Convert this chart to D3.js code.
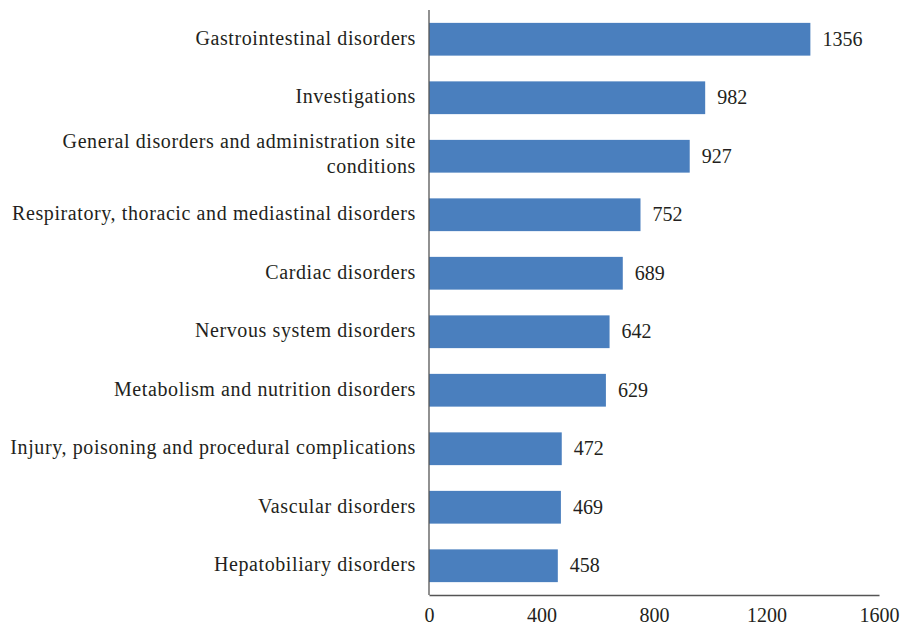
<!DOCTYPE html>
<html>
<head>
<meta charset="utf-8">
<script src="https://cdn.jsdelivr.net/npm/d3@7"></script>
<style>
  body { margin: 0; background: #fff; }
  svg text { font-family: "Liberation Serif", "DejaVu Serif", serif; fill: #231f20; }
</style>
</head>
<body>
<svg id="chart" width="902" height="627"></svg>
<script>
// categories top to bottom
const categories = [
  ['Gastrointestinal disorders'],
  ['Investigations'],
  ['General disorders and administration site', 'conditions'],
  ['Respiratory, thoracic and mediastinal disorders'],
  ['Cardiac disorders'],
  ['Nervous system disorders'],
  ['Metabolism and nutrition disorders'],
  ['Injury, poisoning and procedural complications'],
  ['Vascular disorders'],
  ['Hepatobiliary disorders']
]
const counts = [1356, 982, 927, 752, 689, 642, 629, 472, 469, 458]
const xTicks = [0, 400, 800, 1200, 1600]

let dimensions = {
  width: 902,
  height: 627,
  margin: { top: 10, bottom: 32, right: 23, left: 429 }
}

let svg = d3.select('#chart')

let xScale = d3.scaleLinear()
  .domain([0, 1600])
  .range([dimensions.margin.left, dimensions.width - dimensions.margin.right])

let yScale = d3.scaleBand()
  .domain(d3.range(categories.length))
  .range([dimensions.margin.top, dimensions.height - dimensions.margin.bottom])
  .paddingInner(0.44)
  .paddingOuter(0.22)

svg.selectAll('rect.bar')
  .data(counts)
  .enter()
  .append('rect')
  .attr('class', 'bar')
  .attr('x', xScale(0))
  .attr('y', (d, i) => yScale(i))
  .attr('width', d => xScale(d) - xScale(0))
  .attr('height', yScale.bandwidth())
  .attr('fill', '#4a7fbe')

// value labels
svg.selectAll('text.val')
  .data(counts)
  .enter()
  .append('text')
  .attr('class', 'val')
  .attr('x', d => xScale(d) + 12)
  .attr('y', (d, i) => yScale(i) + yScale.bandwidth() / 2)
  .attr('dy', '0.32em')
  .style('font-size', '20px')
  .text(d => d)

// category labels
let labels = svg.selectAll('text.cat')
  .data(categories)
  .enter()
  .append('text')
  .attr('class', 'cat')
  .attr('text-anchor', 'end')
  .style('font-size', '20px')
  .style('letter-spacing', '0.6px')
  .attr('y', (d, i) => yScale(i) + yScale.bandwidth() / 2)

labels.selectAll('tspan')
  .data(d => d.map((t, j) => ({ t: t, j: j, n: d.length })))
  .enter()
  .append('tspan')
  .attr('x', dimensions.margin.left - 13)
  .attr('dy', d => d.j == 0 ? ((0.28 - (d.n - 1) * 0.68) + 'em') : '1.25em')
  .text(d => d.t)

// axes
let xAxisgen = d3.axisBottom(xScale).tickValues(xTicks).tickFormat(d3.format('d')).tickSize(0).tickPadding(13)
let xAxis = svg.append('g')
  .attr('transform', `translate(0,${dimensions.height - dimensions.margin.bottom})`)
  .call(xAxisgen)
xAxis.select('.domain').attr('stroke', '#555').attr('stroke-width', 1.3)
xAxis.selectAll('text').style('font-size', '20px').attr('font-family', null)

svg.append('line')
  .attr('x1', xScale(0)).attr('x2', xScale(0))
  .attr('y1', dimensions.margin.top).attr('y2', dimensions.height - dimensions.margin.bottom)
  .attr('stroke', '#555')
  .attr('stroke-width', 1.3)
</script>
</body>
</html>
